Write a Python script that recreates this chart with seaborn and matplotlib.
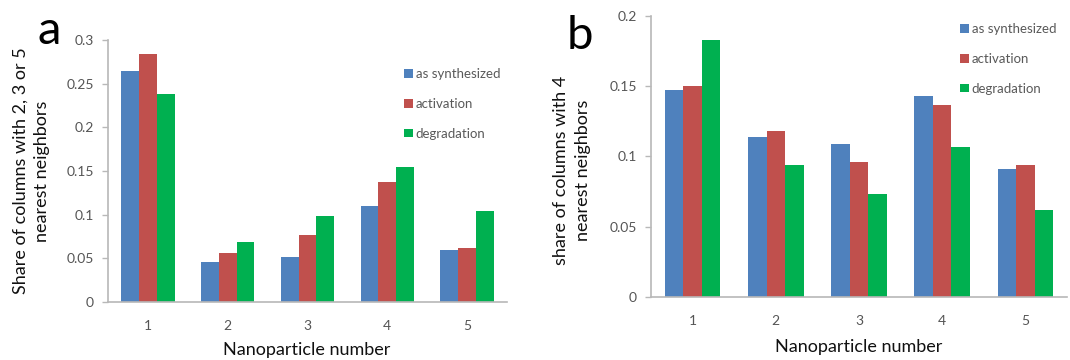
import matplotlib
matplotlib.use("Agg")
import matplotlib.pyplot as plt
from matplotlib.ticker import FuncFormatter, MultipleLocator
import pandas as pd
import seaborn as sns

# Nanoparticle categories and the three treatment series
particles = ["1", "2", "3", "4", "5"]
series = ["as synthesized", "activation", "degradation"]
colors = ["#4F81BD", "#C0504D", "#00B050"]

# Panel a: share of columns with 2, 3 or 5 nearest neighbors
a_synth = [0.264, 0.046, 0.052, 0.110, 0.060]
a_activ = [0.284, 0.056, 0.077, 0.137, 0.062]
a_degr = [0.238, 0.069, 0.098, 0.155, 0.104]

# Panel b: share of columns with 4 nearest neighbors
b_synth = [0.147, 0.114, 0.109, 0.143, 0.091]
b_activ = [0.150, 0.118, 0.096, 0.137, 0.094]
b_degr = [0.183, 0.094, 0.073, 0.107, 0.062]


def long_table(*cols):
    rows = []
    for name, vals in zip(series, cols):
        for p, v in zip(particles, vals):
            rows.append({"particle": p, "series": name, "value": v})
    return pd.DataFrame(rows)


sns.set_theme(style="white")
plt.rcParams["font.family"] = ["Lato", "DejaVu Sans"]

fig = plt.figure(figsize=(10.7, 3.6), dpi=100)
W, H = 1070, 360


def axes_px(x0, y_top, x1, y_bot):
    return fig.add_axes([x0 / W, 1 - y_bot / H, (x1 - x0) / W, (y_bot - y_top) / H])


ax_a = axes_px(108, 40, 507, 302)
ax_b = axes_px(651, 16, 1067, 297)

spine_col = "#B8B8B8"
tick_col = "#555555"

for ax, data, ymax, step, leg_xy in [
    (ax_a, long_table(a_synth, a_activ, a_degr), 0.3, 0.05, (404, 68)),
    (ax_b, long_table(b_synth, b_activ, b_degr), 0.2, 0.05, (960, 23)),
]:
    sns.barplot(data=data, x="particle", y="value", hue="series",
                hue_order=series, order=particles, palette=colors,
                width=0.667, gap=0, saturation=1, ax=ax, linewidth=0)
    ax.set_xlim(-0.5, 4.5)
    ax.set_ylim(0, ymax)
    ax.yaxis.set_major_locator(MultipleLocator(step))
    ax.yaxis.set_major_formatter(FuncFormatter(lambda v, _: f"{v:g}"))
    for s in ["top", "right"]:
        ax.spines[s].set_visible(False)
    for s in ["left", "bottom"]:
        ax.spines[s].set_color(spine_col)
        ax.spines[s].set_linewidth(1.2)
    ax.tick_params(axis="x", length=0, pad=13, labelsize=10, labelcolor=tick_col)
    ax.tick_params(axis="y", direction="out", length=4, width=1, color=spine_col,
                   pad=6, labelsize=10, labelcolor=tick_col, left=True)
    ax.set_xlabel("")
    ax.set_ylabel("")
    handles, labels = ax.get_legend_handles_labels()
    ax.legend_.remove()
    fig.legend(handles, labels, loc="upper left",
               bbox_to_anchor=(leg_xy[0] / W, 1 - leg_xy[1] / H),
               frameon=False, fontsize=9.5, labelcolor="#595959",
               handlelength=0.65, handleheight=0.65, handletextpad=0.25,
               labelspacing=1.35, borderpad=0, borderaxespad=0)

# axis titles
fig.text(307 / W, 1 - 350 / H, "Nanoparticle number", ha="center", va="center",
         fontsize=13, color="#111111")
fig.text(859 / W, 1 - 347 / H, "Nanoparticle number", ha="center", va="center",
         fontsize=13, color="#111111")
fig.text(31 / W, 1 - 171 / H, "Share of columns with 2, 3 or 5\nnearest neighbors",
         rotation=90, ha="center", va="center", fontsize=13, linespacing=1.4,
         multialignment="center", color="#111111")
fig.text(572 / W, 1 - 170 / H, "share of columns with 4\nnearest neighbors",
         rotation=90, ha="center", va="center", fontsize=13, linespacing=1.4,
         multialignment="center", color="#111111")

# panel letters
fig.text(49 / W, 1 - 31 / H, "a", ha="center", va="center", fontsize=34, color="black")
fig.text(580 / W, 1 - 36 / H, "b", ha="center", va="center", fontsize=34, color="black")

fig.savefig("out.png", dpi=100)
